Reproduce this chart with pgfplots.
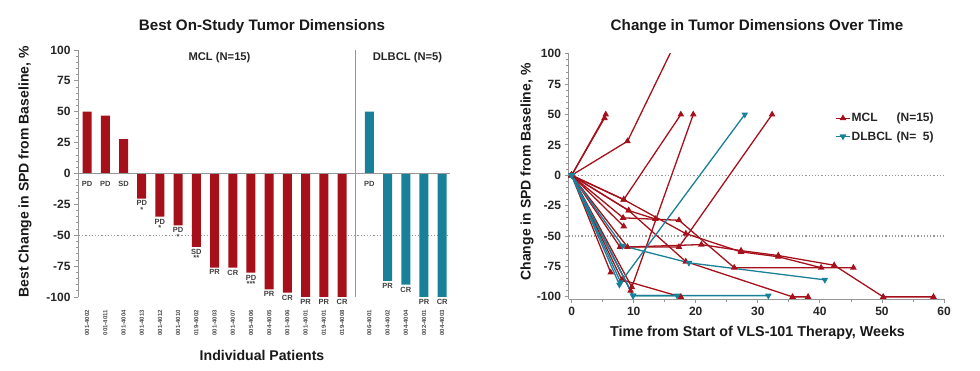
\documentclass[border=0pt]{standalone}
\usepackage{fontspec}
\setmainfont{Liberation Sans}
\usepackage{pgfplots}
\pgfplotsset{compat=1.18}
\definecolor{mclred}{RGB}{165,16,26}
\definecolor{dlteal}{RGB}{24,128,152}
\definecolor{axgray}{RGB}{150,150,150}
\pgfplotsset{
  mcl/.style={mclred, line width=1.3pt, mark=triangle*, mark size=2.6pt, mark options={solid, fill=mclred}},
  dl/.style={dlteal, line width=1.3pt, mark=triangle*, mark size=2.6pt, mark options={solid, rotate=180, fill=dlteal}},
}
\newcommand{\fs}[1]{\fontsize{#1}{#1}\selectfont}
\begin{document}
\bfseries
\begin{tikzpicture}[font=\bfseries]
\path[use as bounding box] (0,0) rectangle (980pt,371pt);
% ---------------- LEFT: waterfall ----------------
\begin{axis}[
  at={(78pt,74pt)}, anchor=south west, scale only axis,
  width=372pt, height=247pt,
  xmin=0.5, xmax=20.93, ymin=-100, ymax=100,
  axis x line=none, axis y line=left,
  axis line style={-, axgray, line width=1pt},
  ytick={-100,-75,...,100}, minor y tick num=4,
  tick align=outside, major tick length=4pt, minor tick length=2.5pt,
  tick style={axgray, line width=0.8pt},
  yticklabel style={font=\fs{12}\bfseries, text=black!85},
  /pgf/number format/assume math mode=true,
  clip=false,
]
\draw[axgray, dotted, line width=1.2pt] (axis cs:0.55,-50) -- (axis cs:20.93,-50);
\addplot[ybar, bar width=9pt, bar shift=0pt, fill=mclred, draw=none] coordinates {
 (1,50) (2,46.8) (3,27.8) (4,-20.3) (5,-35) (6,-42) (7,-59.5) (8,-76.2) (9,-76.2)
 (10,-80.3) (11,-93.8) (12,-96.5) (13,-100) (14,-100) (15,-100)};
\addplot[ybar, bar width=9pt, bar shift=0pt, fill=dlteal, draw=none] coordinates {
 (16.5,50) (17.5,-87) (18.5,-90) (19.5,-100) (20.5,-100)};
\draw[axgray, line width=1pt] (axis cs:0.5,0) -- (axis cs:20.93,0);
\draw[axgray, line width=1pt] (axis cs:15.73,-100) -- (axis cs:15.73,100);
% response labels
\begin{scope}[every node/.style={font=\fs{7.5}\bfseries, text=black!75, align=center, inner sep=1pt}]
\node at ([yshift=-10.5pt]axis cs:1,0) {PD};
\node at ([yshift=-10.5pt]axis cs:2,0) {PD};
\node at ([yshift=-10.5pt]axis cs:3,0) {SD};
\node[anchor=north] at ([yshift=-1pt]axis cs:4,-20.3) {PD\\[-1pt]*};
\node[anchor=north] at ([yshift=-1pt]axis cs:5,-35) {PD\\[-1pt]*};
\node[anchor=north] at ([yshift=-1pt]axis cs:6,-42) {PD\\[-1pt]*};
\node[anchor=north] at ([yshift=-1pt]axis cs:7,-59.5) {SD\\[-1pt]**};
\node[anchor=north] at ([yshift=-1pt]axis cs:8,-76.2) {PR};
\node[anchor=north] at ([yshift=-1pt]axis cs:9,-76.2) {CR};
\node[anchor=north] at ([yshift=-1pt]axis cs:10,-80.3) {PD\\[-1pt]***};
\node[anchor=north] at ([yshift=-1pt]axis cs:11,-93.8) {PR};
\node[anchor=north] at ([yshift=-1pt]axis cs:12,-96.5) {CR};
\node[anchor=north] at ([yshift=-1pt]axis cs:13,-100) {PR};
\node[anchor=north] at ([yshift=-1pt]axis cs:14,-100) {PR};
\node[anchor=north] at ([yshift=-1pt]axis cs:15,-100) {CR};
\node at ([yshift=-10.5pt]axis cs:16.5,0) {PD};
\node[anchor=north] at ([yshift=-1pt]axis cs:17.5,-87) {PR};
\node[anchor=north] at ([yshift=-1pt]axis cs:18.5,-90) {CR};
\node[anchor=north] at ([yshift=-1pt]axis cs:19.5,-100) {PR};
\node[anchor=north] at ([yshift=-1pt]axis cs:20.5,-100) {CR};
\end{scope}
% patient ids
\begin{scope}[every node/.style={font=\fs{6}\bfseries, text=black!70, rotate=90, anchor=east, inner sep=0pt}]
\node at ([yshift=-13pt]axis cs:1,-100) {001-4002};
\node at ([yshift=-13pt]axis cs:2,-100) {001-4011};
\node at ([yshift=-13pt]axis cs:3,-100) {001-4004};
\node at ([yshift=-13pt]axis cs:4,-100) {001-4013};
\node at ([yshift=-13pt]axis cs:5,-100) {001-4012};
\node at ([yshift=-13pt]axis cs:6,-100) {001-4010};
\node at ([yshift=-13pt]axis cs:7,-100) {019-4002};
\node at ([yshift=-13pt]axis cs:8,-100) {001-4003};
\node at ([yshift=-13pt]axis cs:9,-100) {001-4007};
\node at ([yshift=-13pt]axis cs:10,-100) {005-4006};
\node at ([yshift=-13pt]axis cs:11,-100) {004-4005};
\node at ([yshift=-13pt]axis cs:12,-100) {001-4006};
\node at ([yshift=-13pt]axis cs:13,-100) {001-4001};
\node at ([yshift=-13pt]axis cs:14,-100) {019-4001};
\node at ([yshift=-13pt]axis cs:15,-100) {019-4008};
\node at ([yshift=-13pt]axis cs:16.5,-100) {006-4001};
\node at ([yshift=-13pt]axis cs:17.5,-100) {004-4002};
\node at ([yshift=-13pt]axis cs:18.5,-100) {004-4004};
\node at ([yshift=-13pt]axis cs:19.5,-100) {002-4001};
\node at ([yshift=-13pt]axis cs:20.5,-100) {004-4003};
\end{scope}
\end{axis}
% ---------------- RIGHT: spider ----------------
\begin{axis}[
  at={(568.5pt,71.7pt)}, anchor=south west, scale only axis,
  width=375.5pt, height=245.6pt,
  xmin=-0.5, xmax=60, ymin=-102, ymax=100,
  axis x line=bottom, axis y line=left,
  axis line style={-, axgray, line width=1pt},
  xtick={0,10,...,60}, minor x tick num=1,
  ytick={-100,-75,...,100}, minor y tick num=4,
  tick align=outside, major tick length=4pt, minor tick length=2.5pt,
  tick style={axgray, line width=0.8pt},
  ticklabel style={font=\fs{12}\bfseries, text=black!85},
  /pgf/number format/assume math mode=true,
  legend style={draw=none, fill=none, at={(0.702,0.771)}, anchor=north west,
    font=\fs{12}\bfseries, text=black!85, row sep=6pt, nodes={inner sep=1pt}},
  legend cell align=left,
  legend image code/.code={\draw[mark repeat=2, mark phase=2, #1] plot coordinates {(0pt,0pt) (7pt,0pt) (14pt,0pt)};},
]
\draw[axgray, dotted, line width=1.2pt] (axis cs:-0.5,0) -- (axis cs:60,0);
\draw[axgray, dotted, line width=1.2pt] (axis cs:-0.5,-50) -- (axis cs:60,-50);
% MCL
\addplot[mcl, forget plot] coordinates {(0,0) (5.3,47)};
\addplot[mcl, forget plot] coordinates {(0,0) (5.5,50)};
\addplot[mcl, forget plot] coordinates {(0,0) (9,28) (17,112)};
\addplot[mcl, forget plot] coordinates {(0,0) (8.4,-20) (17.6,50)};
\addplot[mcl, forget plot] coordinates {(0,0) (8.4,-20) (18.4,-48) (27.3,-63) (33.3,-67) (40.2,-76)};
\addplot[mcl, forget plot] coordinates {(0,0) (9.2,-29) (18.4,-71) (35.6,-100) (38.1,-100)};
\addplot[mcl, forget plot] coordinates {(0,0) (8.3,-35) (17.3,-37) (26.2,-76) (45.4,-76)};
\addplot[mcl, forget plot] coordinates {(0,0) (7.8,-59) (17.3,-59) (32.3,50)};
\addplot[mcl, forget plot] coordinates {(0,0) (9.0,-59) (20.9,-57) (27.3,-62) (33.3,-66) (42.3,-74) (50.2,-100) (58.3,-100)};
\addplot[mcl, forget plot] coordinates {(0,0) (8.4,-42)};
\addplot[mcl, forget plot] coordinates {(0,0) (9.2,-29) (13.5,-36)};
\addplot[mcl, forget plot] coordinates {(0,0) (6.3,-80)};
\addplot[mcl, forget plot] coordinates {(0,0) (8.1,-86) (17.6,-100)};
\addplot[mcl, forget plot] coordinates {(0,0) (9.7,-92) (19.6,50)};
\addplot[mcl, forget plot] coordinates {(0,0) (9.5,-95)};
% DLBCL
\addplot[dl, forget plot] coordinates {(0,0) (7.9,-88) (27.9,50)};
\addplot[dl, forget plot] coordinates {(0,0) (8.2,-58) (18.9,-72) (40.8,-86)};
\addplot[dl, forget plot] coordinates {(0,0) (9.9,-99) (17,-99)};
\addplot[dl, forget plot] coordinates {(0,0) (9.9,-99) (31.7,-99)};
\addplot[dl, forget plot] coordinates {(0,0) (7.7,-90)};
\addlegendimage{mcl}
\addlegendentry{\makebox[45pt][l]{MCL}(N=15)}
\addlegendimage{dl}
\addlegendentry{\makebox[45pt][l]{DLBCL}(N=\phantom{1}5)}
\end{axis}
% ---------------- titles and labels ----------------
\node[font=\fs{15.2}\bfseries, text=black!90] at (262pt,344.3pt) {Best On-Study Tumor Dimensions};
\node[font=\fs{15.2}\bfseries, text=black!90] at (757pt,344.3pt) {Change in Tumor Dimensions Over Time};
\node[font=\fs{14}\bfseries, text=black!90, rotate=90] at (25pt,199pt) {Best Change in SPD from Baseline, \%};
\node[font=\fs{14}\bfseries, text=black!90, rotate=90] at (527pt,199pt) {Change in SPD from Baseline, \%};
\node[font=\fs{14.1}\bfseries, text=black!90] at (262pt,16pt) {Individual Patients};
\node[font=\fs{14.3}\bfseries, text=black!90] at (757.5pt,37.7pt) {Time from Start of VLS-101 Therapy, Weeks};
\node[font=\fs{11.2}\bfseries, text=black!85] at (219.5pt,313pt) {MCL (N=15)};
\node[font=\fs{11.2}\bfseries, text=black!85] at (407.5pt,313pt) {DLBCL (N=5)};
\end{tikzpicture}
\end{document}
